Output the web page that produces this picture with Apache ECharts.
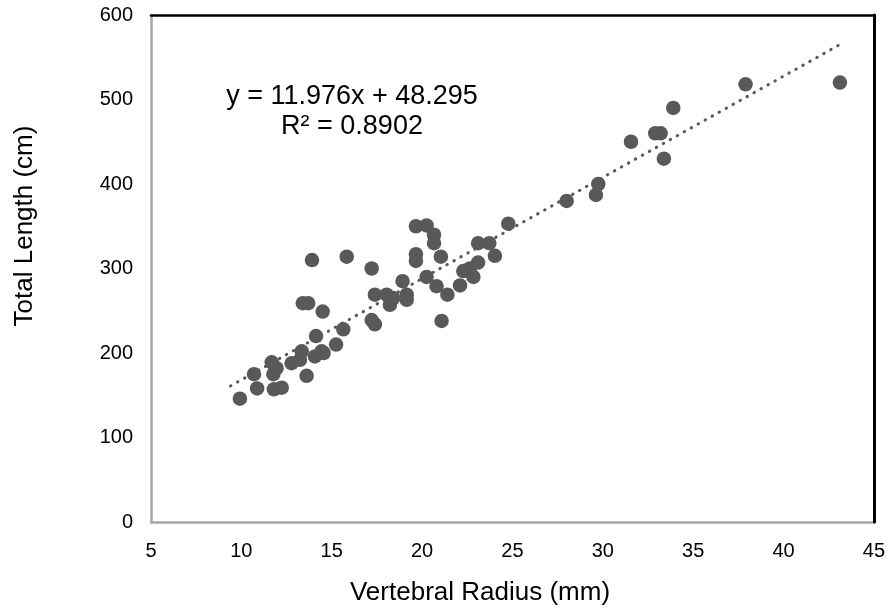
<!DOCTYPE html>
<html>
<head>
<meta charset="utf-8">
<script src="https://cdn.jsdelivr.net/npm/echarts@6/dist/echarts.min.js"></script>
<style>
html,body{margin:0;padding:0;background:#fff;}
#chart{width:888px;height:611px;}
</style>
</head>
<body>
<div id="chart"></div>
<script>
// Vertebral radius (mm)
const radius = [
  9.92, 10.70, 10.87, 11.68, 11.77, 11.80, 11.95, 12.23, 12.78, 13.24,
  13.34, 13.61, 14.07, 14.13, 14.44, 14.55, 15.24, 15.64, 14.50, 13.40,
  13.70, 13.91, 15.83, 17.21, 17.39, 18.04, 18.40, 18.22, 19.15, 19.15,
  18.92, 17.21, 17.39, 19.66, 20.25, 20.66, 20.66, 19.66, 19.66, 21.04,
  20.25, 20.80, 21.40, 22.10, 22.28, 22.65, 23.10, 22.84, 23.10, 23.72,
  24.03, 24.77, 21.08, 28.00, 29.62, 29.75, 31.56, 32.90, 33.20, 33.38,
  33.90, 37.90, 43.12
];
// Total length (cm)
const totalLength = [
  146, 175, 158, 189, 175, 157, 182, 159, 188, 192,
  202, 173, 196, 220, 202, 200, 210, 228, 249, 259,
  259, 310, 314, 300, 269, 269, 265, 257, 269, 263,
  285, 239, 234, 350, 351, 340, 330, 317, 309, 314,
  290, 279, 269, 280, 297, 300, 307, 290, 330, 330,
  315, 353, 238, 380, 387, 400, 450, 460, 460, 430,
  490, 518, 520
];
// Linear trendline endpoints
const trendX = [9.4, 43.2];
const trendY = [161, 566];
const equationText = ['y = 11.976x + 48.295', 'R\u00b2 = 0.8902'];
const xTitle = 'Vertebral Radius (mm)';
const yTitle = 'Total Length (cm)';

const points = radius.map((x, i) => [x, totalLength[i]]);
const trend = trendX.map((x, i) => [x, trendY[i]]);

const chart = echarts.init(document.getElementById('chart'), null, {renderer: 'canvas'});
const font = '"Liberation Sans", Arial, sans-serif';
chart.setOption({
  animation: false,
  backgroundColor: '#fff',
  grid: {left: 151, right: 14, top: 15, bottom: 89, show: false},
  xAxis: [{
    type: 'value', min: 5, max: 45, interval: 5, position: 'bottom', z: 2,
    axisLine: {show: true, onZero: false, lineStyle: {color: '#a6a6a6', width: 2.5}},
    axisTick: {show: false},
    splitLine: {show: false},
    axisLabel: {color: '#000', fontSize: 20, fontFamily: font, margin: 19}
  }, {
    type: 'value', min: 5, max: 45, position: 'top', z: 5,
    axisLine: {show: true, onZero: false, lineStyle: {color: '#000', width: 2.5}},
    axisTick: {show: false}, splitLine: {show: false}, axisLabel: {show: false}
  }],
  yAxis: [{
    type: 'value', min: 0, max: 600, interval: 100, position: 'left', z: 2,
    axisLine: {show: true, onZero: false, lineStyle: {color: '#a6a6a6', width: 2.5}},
    axisTick: {show: false},
    splitLine: {show: false},
    axisLabel: {color: '#000', fontSize: 20, fontFamily: font, margin: 18}
  }, {
    type: 'value', min: 0, max: 600, position: 'right', z: 5,
    axisLine: {show: true, onZero: false, lineStyle: {color: '#000', width: 3}},
    axisTick: {show: false}, splitLine: {show: false}, axisLabel: {show: false}
  }],
  series: [{
    type: 'scatter',
    data: points,
    symbol: 'circle',
    symbolSize: 14.5,
    itemStyle: {color: '#595959', opacity: 1},
    z: 3
  }, {
    type: 'line',
    data: trend,
    symbol: 'none',
    lineStyle: {color: '#595959', width: 3, type: [0.5, 7.5], cap: 'round'},
    z: 4
  }],
  graphic: [{
    type: 'text', x: 352, y: 97,
    style: {text: equationText[0], font: '27px ' + font, fill: '#000', align: 'center', verticalAlign: 'middle'}
  }, {
    type: 'text', x: 352, y: 127,
    style: {text: equationText[1], font: '27px ' + font, fill: '#000', align: 'center', verticalAlign: 'middle'}
  }, {
    type: 'text', x: 480, y: 593,
    style: {text: xTitle, font: '26px ' + font, fill: '#000', align: 'center', verticalAlign: 'middle'}
  }, {
    type: 'text', x: 25, y: 226, rotation: Math.PI / 2,
    style: {text: yTitle, font: '26px ' + font, fill: '#000', align: 'center', verticalAlign: 'middle'}
  }]
});
</script>
</body>
</html>
